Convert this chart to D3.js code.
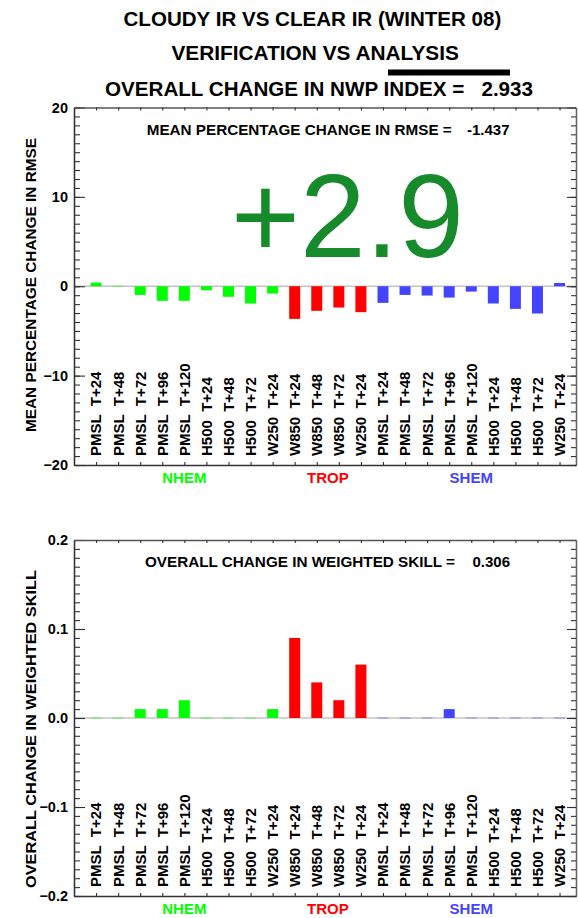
<!DOCTYPE html>
<html><head><meta charset="utf-8">
<script src="https://cdn.jsdelivr.net/npm/d3@7"></script>
<style>
html,body{margin:0;padding:0;background:#fff;}
svg{display:block;font-family:"Liberation Sans",Arial,Helvetica,sans-serif;}
text{white-space:pre;}
</style></head><body>
<script>
// ---------- data ----------
const categories = ["PMSL  T+24","PMSL  T+48","PMSL  T+72","PMSL  T+96","PMSL  T+120",
  "H500  T+24","H500  T+48","H500  T+72","W250  T+24",
  "W850  T+24","W850  T+48","W850  T+72","W250  T+24",
  "PMSL  T+24","PMSL  T+48","PMSL  T+72","PMSL  T+96","PMSL  T+120",
  "H500  T+24","H500  T+48","H500  T+72","W250  T+24"];
const regionOf = [0,0,0,0,0,0,0,0,0, 1,1,1,1, 2,2,2,2,2,2,2,2,2];
const regions = ["NHEM","TROP","SHEM"];
const regionColors = ["#00ff00","#ff0000","#4444ff"];
const rmseChange = [0.4,0,-0.97,-1.63,-1.63,-0.45,-1.18,-1.93,-0.82,
  -3.65,-2.75,-2.38,-2.9,
  -1.86,-0.97,-1.04,-1.27,-0.6,-1.93,-2.53,-3.05,0.37];
const skillChange = [0,0,0.01,0.01,0.02,0,0,0,0.01,
  0.09,0.04,0.02,0.06,
  0,0,0,0.01,0,0,0,0,0];
const titleLines = ["CLOUDY IR VS CLEAR IR (WINTER 08)","VERIFICATION VS ANALYSIS","OVERALL CHANGE IN NWP INDEX =   2.933"];
const topTicks = [-20,-10,0,10,20];
const topMinor = d3.range(-20,20.5,1);
const botTicks = [-0.2,-0.1,0.0,0.1,0.2];
const botMinor = d3.range(-20,20.5,1).map(d=>d/100);
const topLabel = "MEAN PERCENTAGE CHANGE IN RMSE", topStat = "MEAN PERCENTAGE CHANGE IN RMSE =", topStatVal = "-1.437";
const botLabel = "OVERALL CHANGE IN WEIGHTED SKILL", botStat = "OVERALL CHANGE IN WEIGHTED SKILL =", botStatVal = "0.306";
const bigText = "+2.9";

// ---------- drawing ----------
const W=578,H=918;
const svg=d3.select("body").append("svg").attr("width",W).attr("height",H);
const FONT=15;

// titles
const tl=[{y:26,x0:123.5,x1:501.3},{y:60,x0:171.4,x1:458.9},{y:96,x0:105,x1:533}];
titleLines.forEach((t,i)=>{
  svg.append("text").attr("x",tl[i].x0).attr("y",tl[i].y)
    .attr("font-size",21).attr("font-weight","bold").attr("fill","#000")
    .attr("textLength",tl[i].x1-tl[i].x0).attr("lengthAdjust","spacingAndGlyphs")
    .text(t);
});
svg.append("rect").attr("x",388).attr("y",69.5).attr("width",122).attr("height",6).attr("fill","#000");

const xL=74,xR=576;
const x=d3.scaleLinear().domain([0,(xR-xL)/22.07]).range([xL,xR]);
const barW=11;

function panel(o){
  const y=d3.scaleLinear().domain(o.domain).range([o.yB,o.yT]);
  const g=svg.append("g");
  // zero line
  g.append("line").attr("x1",xL).attr("x2",xR).attr("y1",y(0)).attr("y2",y(0))
    .attr("stroke","#c4c4c4").attr("stroke-width",1.6);
  // bars
  o.values.forEach((v,i)=>{
    const cx=x(i+1), c=regionColors[regionOf[i]];
    if(v===0){
      g.append("rect").attr("x",cx-barW/2).attr("y",y(0)-0.8).attr("width",barW).attr("height",1.6)
        .attr("fill",c).attr("opacity",0.3);
    } else {
      g.append("rect").attr("x",cx-barW/2).attr("y",Math.min(y(v),y(0))).attr("width",barW)
        .attr("height",Math.abs(y(v)-y(0))).attr("fill",c);
    }
  });
  // axes
  const axStyle=sel=>{sel.select(".domain").attr("stroke","#333").attr("stroke-width",1.3);
    sel.selectAll(".tick line").attr("stroke","#333").attr("stroke-width",1.1);};
  g.append("g").attr("transform",`translate(${xL},0)`)
    .call(d3.axisLeft(y).tickValues(o.minor).tickSize(-6).tickFormat("").tickSizeOuter(0)).call(axStyle);
  const la=g.append("g").attr("transform",`translate(${xL},0)`)
    .call(d3.axisLeft(y).tickValues(o.ticks).tickSize(-11).tickPadding(6).tickFormat(o.fmt).tickSizeOuter(0)).call(axStyle);
  la.selectAll("text").attr("font-size",14.5).attr("font-weight","bold").attr("fill","#000")
    .attr("font-family","Liberation Sans,Arial,sans-serif");
  g.append("g").attr("transform",`translate(${xR},0)`)
    .call(d3.axisRight(y).tickValues(o.minor).tickSize(-5).tickFormat("").tickSizeOuter(0)).call(axStyle)
    .select(".domain").attr("stroke","#666");
  g.append("g").attr("transform",`translate(${xR},0)`)
    .call(d3.axisRight(y).tickValues(o.ticks).tickSize(-9).tickFormat("").tickSizeOuter(0)).call(axStyle)
    .select(".domain").attr("stroke","#666");
  const centers=d3.range(1,23);
  g.append("g").attr("transform",`translate(0,${o.yB})`)
    .call(d3.axisBottom(x).tickValues(centers).tickSize(-3).tickFormat("").tickSizeOuter(0)).call(axStyle);
  g.append("g").attr("transform",`translate(0,${o.yT})`)
    .call(d3.axisTop(x).tickValues(centers).tickSize(-3).tickFormat("").tickSizeOuter(0)).call(axStyle)
    .select(".domain").attr("stroke","#555");
  // category labels
  categories.forEach((c,i)=>{
    g.append("text").attr("transform",`translate(${x(i+1)+5.4},${o.yB-9}) rotate(-90)`)
      .attr("font-size",FONT).attr("font-weight","bold").attr("fill","#000").text(c);
  });
  // region labels
  regions.forEach((r,k)=>{
    const idx=d3.range(22).filter(i=>regionOf[i]===k);
    const cx=(x(idx[0]+1)+x(idx[idx.length-1]+1))/2;
    g.append("text").attr("x",cx).attr("y",o.regY).attr("text-anchor","middle")
      .attr("font-size",FONT).attr("font-weight","bold").attr("fill",regionColors[k]).text(r);
  });
  // y title
  g.append("text").attr("transform",`translate(36,${o.titleY}) rotate(-90)`).attr("text-anchor","middle")
    .attr("font-size",15.3).attr("font-weight","bold").attr("fill","#000")
    .attr("textLength",o.titleLen).attr("lengthAdjust","spacingAndGlyphs").text(o.label);
  // stat text
  g.append("text").attr("x",o.statX).attr("y",o.statY).attr("font-size",FONT).attr("font-weight","bold")
    .attr("fill","#000").attr("textLength",o.statLen).attr("lengthAdjust","spacingAndGlyphs").text(o.stat);
  g.append("text").attr("x",o.valX).attr("y",o.statY).attr("text-anchor","end").attr("font-size",FONT)
    .attr("font-weight","bold").attr("fill","#000").text(o.val);
  return y;
}

panel({domain:[-20,20],yT:107.5,yB:465,values:rmseChange,ticks:topTicks,minor:topMinor,fmt:d3.format("d"),
  regY:482.5,titleY:285,titleLen:294,label:topLabel,stat:topStat,statX:146.7,statY:135,statLen:305,val:topStatVal,valX:509.5});
panel({domain:[-0.2,0.2],yT:540,yB:896,values:skillChange,ticks:botTicks,minor:botMinor,fmt:d3.format(".1f"),
  regY:914,titleY:729,titleLen:318,label:botLabel,stat:botStat,statX:145,statY:567.3,statLen:310,val:botStatVal,valX:510});

// big annotation
svg.append("text").attr("x",231).attr("y",257.3).attr("font-size",118).attr("fill","#178a2c")
  .attr("font-family","Liberation Sans,Arial,sans-serif").text(bigText);
</script>
</body></html>
